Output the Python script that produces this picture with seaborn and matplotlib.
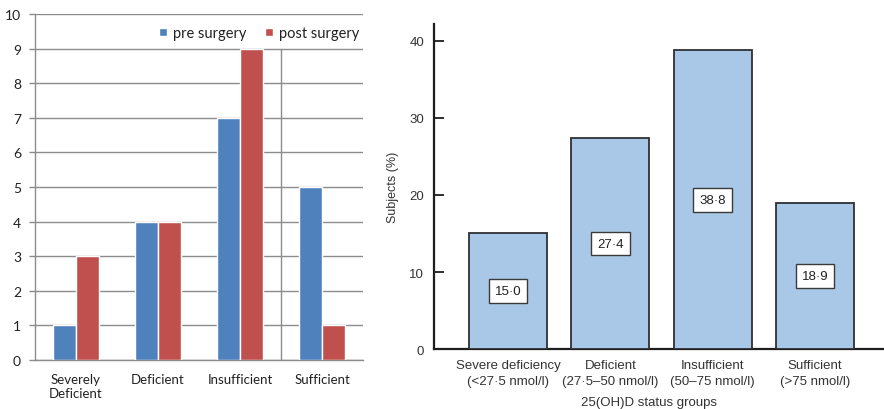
import numpy as np
import pandas as pd
import matplotlib
matplotlib.use("Agg")
import matplotlib.pyplot as plt
import seaborn as sns

# Left panel: number of patients per vitamin D status, before and after surgery
surgery_groups = ["Severely\nDeficient", "Deficient", "Insufficient", "Sufficient"]
pre_surgery = [1, 4, 7, 5]
post_surgery = [3, 4, 9, 1]
series_names = ["pre surgery", "post surgery"]

# Right panel: share of subjects per 25(OH)D status group
status_groups = [
    "Severe deficiency\n(<27·5 nmol/l)",
    "Deficient\n(27·5–50 nmol/l)",
    "Insufficient\n(50–75 nmol/l)",
    "Sufficient\n(>75 nmol/l)",
]
subjects_pct = [15.0, 27.4, 38.8, 18.9]

sns.set_theme(style="white")
plt.rcParams["font.family"] = ["Lato", "DejaVu Sans"]
ARIAL = ["Liberation Sans", "DejaVu Sans"]

fig = plt.figure(figsize=(8.84, 4.10), dpi=100)

# ---------------- left panel ----------------
axL = fig.add_axes([0.0396, 0.1195, 0.371, 0.8439])
df = pd.DataFrame({
    "group": surgery_groups * 2,
    "count": pre_surgery + post_surgery,
    "when": [series_names[0]] * 4 + [series_names[1]] * 4,
})
sns.barplot(data=df, x="group", y="count", hue="when", hue_order=series_names,
            palette=["#4f81bd", "#c0504d"], saturation=1, width=0.56,
            ax=axL, zorder=3)
grid_c = "#8c8c8c"
axL.set_xlim(-0.5, 3.5)
axL.set_ylim(0, 10)
axL.set_yticks(range(0, 11))
axL.yaxis.grid(True, color=grid_c, linewidth=1.0, zorder=0)
axL.set_axisbelow(True)
axL.axvline(2.5, ymin=0, ymax=0.9, color=grid_c, linewidth=1.0, zorder=1)
for s in ["top", "right"]:
    axL.spines[s].set_visible(False)
for s in ["left", "bottom"]:
    axL.spines[s].set_color(grid_c)
    axL.spines[s].set_linewidth(1.0)
axL.set_xlabel("")
axL.set_ylabel("")
axL.set_xticks(range(4))
axL.set_xticklabels(surgery_groups, fontsize=9.5, color="#222222", linespacing=1.2)
axL.set_xticks([-0.5, 0.5, 1.5, 2.5, 3.5], minor=True)
axL.tick_params(axis="x", which="major", length=0, pad=9)
axL.tick_params(axis="x", which="minor", length=5, width=1.0, color=grid_c, direction="out")
axL.tick_params(axis="y", length=4, width=1.0, color=grid_c, direction="out",
                labelsize=10, labelcolor="#222222", pad=6, left=True)
leg = axL.legend(loc="upper right", bbox_to_anchor=(1.015, 0.99), ncol=2, frameon=False,
                 fontsize=10.5, handlelength=0.55, handleheight=0.55, handletextpad=0.4,
                 columnspacing=1.3, borderaxespad=0.2)
for t in leg.get_texts():
    t.set_color("#222222")

# ---------------- right panel ----------------
axR = fig.add_axes([0.491, 0.1463, 0.509, 0.7927])
dfR = pd.DataFrame({"status": status_groups, "pct": subjects_pct})
sns.barplot(data=dfR, x="status", y="pct", color="#a9c8e8", saturation=1, width=0.76,
            edgecolor="#2e3033", linewidth=1.3, ax=axR, zorder=3)
axR.set_xlim(-0.723, 3.675)
axR.set_ylim(0, 42.2)
for s in ["top", "right"]:
    axR.spines[s].set_visible(False)
for s in ["left", "bottom"]:
    axR.spines[s].set_color("#1e1e1e")
    axR.spines[s].set_linewidth(1.6)
txt_c = "#333333"
axR.set_xticks(range(4))
axR.set_xticklabels(status_groups, fontsize=9.5, color=txt_c, family=ARIAL,
                    linespacing=1.35)
axR.set_yticks([0, 10, 20, 30, 40])
axR.set_yticklabels(["0", "10", "20", "30", "40"], fontsize=9.5, color=txt_c,
                    family=ARIAL)
axR.tick_params(axis="y", direction="in", length=7, width=1.3, color="#1e1e1e",
                pad=7, left=True)
axR.tick_params(axis="x", direction="in", length=4, width=1.3, color="#1e1e1e",
                pad=7.5, bottom=True)
axR.set_xlabel("25(OH)D status groups", fontsize=9.5, color=txt_c, family=ARIAL,
               va="center")
axR.xaxis.set_label_coords(0.478, -0.162)
axR.set_ylabel("Subjects (%)", fontsize=9, color=txt_c, family=ARIAL, va="center")
axR.yaxis.set_label_coords(-0.091, 0.5)

for i, v in enumerate(subjects_pct):
    axR.text(i, v / 2, f"{v:.1f}".replace(".", "·"), ha="center", va="center",
             fontsize=9.5, color="#222222", family=ARIAL, zorder=5,
             bbox=dict(boxstyle="square,pad=0.45", facecolor="white",
                       edgecolor="#3a3a3a", linewidth=1.0))

fig.savefig("out.png", dpi=100)
